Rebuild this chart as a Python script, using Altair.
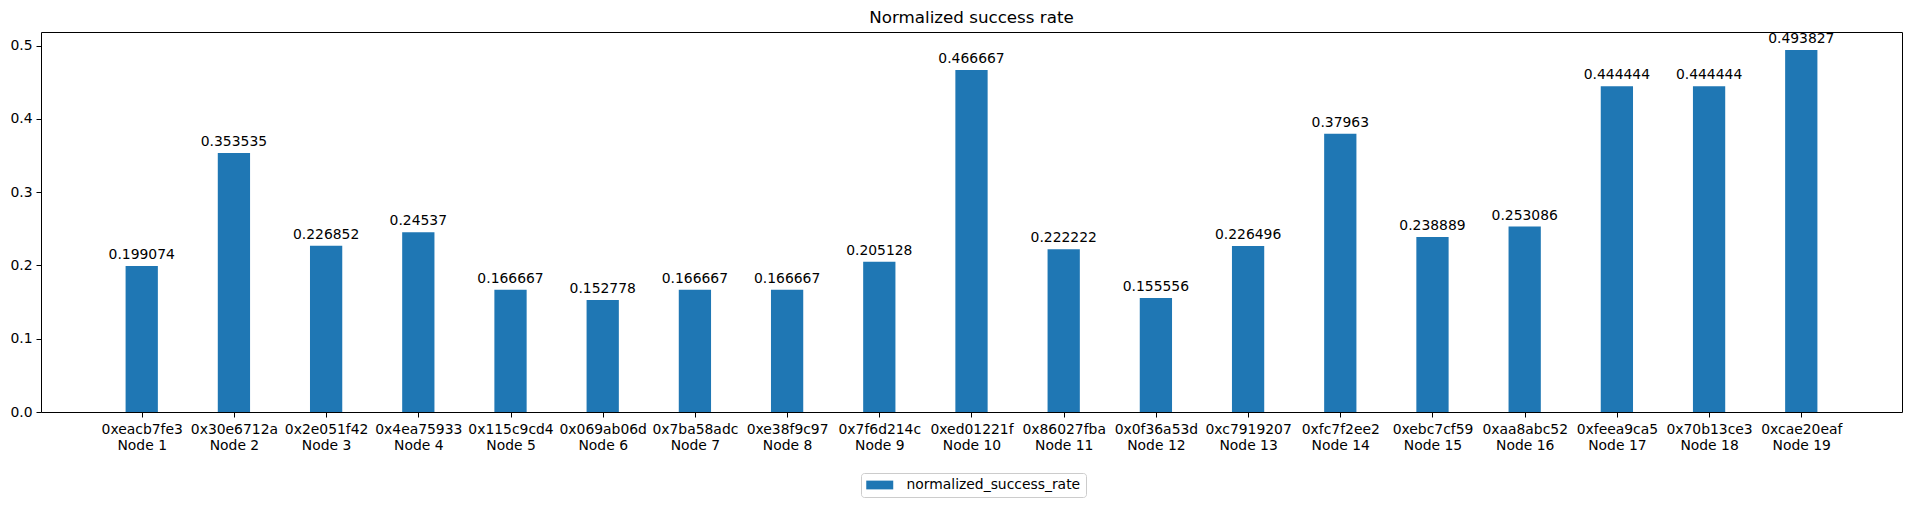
import altair as alt
import pandas as pd

node_ids = ["0xeacb7fe3", "0x30e6712a", "0x2e051f42", "0x4ea75933", "0x115c9cd4",
            "0x069ab06d", "0x7ba58adc", "0xe38f9c97", "0x7f6d214c", "0xed01221f",
            "0x86027fba", "0x0f36a53d", "0xc7919207", "0xfc7f2ee2", "0xebc7cf59",
            "0xaa8abc52", "0xfeea9ca5", "0x70b13ce3", "0xcae20eaf"]
node_names = [f"Node {i}" for i in range(1, len(node_ids) + 1)]
success = [0.199074, 0.353535, 0.226852, 0.24537, 0.166667, 0.152778, 0.166667,
           0.166667, 0.205128, 0.466667, 0.222222, 0.155556, 0.226496, 0.37963,
           0.238889, 0.253086, 0.444444, 0.444444, 0.493827]
y_ticks = [0.0, 0.1, 0.2, 0.3, 0.4, 0.5]
series_name = "normalized_success_rate"

n = len(node_ids)
df = pd.DataFrame({
    "idx": list(range(n)),
    "node_id": node_ids,
    "node": node_names,
    "value": success,
})
df["label"] = [f"{v:g}" for v in success]
df["series"] = series_name

half = 0.175
span = (n - 1) + 2 * half
xmin = -half - 0.05 * span
xmax = (n - 1) + half + 0.05 * span
ymax = max(success) * 1.05

FONT = "DejaVu Sans"
label_expr = ("[[" + ",".join(f"'{a}'" for a in node_ids) +
              "][datum.value], 'Node ' + (datum.value + 1)]")

x_scale = alt.Scale(domain=[xmin, xmax], nice=False, zero=False)
y_scale = alt.Scale(domain=[0, ymax], nice=False)

base = alt.Chart(df)

bars = base.transform_calculate(
    x0=f"datum.idx - {half}", x1=f"datum.idx + {half}"
).mark_bar(color="#1f77b4").encode(
    x=alt.X("x0:Q", scale=x_scale,
            axis=alt.Axis(values=list(range(n)), labelExpr=label_expr, title=None,
                          grid=False, domain=False, tickSize=5, tickColor="black",
                          labelPadding=5, labelLineHeight=16, labelFontSize=13.9,
                          labelFont=FONT, labelColor="black", labelBaseline="top",
                          labelFlush=False, labelOverlap=False)),
    x2="x1:Q",
    y=alt.Y("value:Q", scale=y_scale,
            axis=alt.Axis(values=y_ticks, format=".1f", title=None, grid=False,
                          domain=False, tickSize=5, tickColor="black", labelPadding=4,
                          labelFontSize=13.9, labelFont=FONT, labelColor="black")),
    y2=alt.datum(0),
    color=alt.Color("series:N", scale=alt.Scale(range=["#1f77b4"]),
                    legend=alt.Legend(title=None, orient="none", legendX=820, legendY=441,
                                      symbolType="M-1,-0.65L3,-0.65L3,0.65L-1,0.65Z",
                                      symbolSize=182, symbolStrokeWidth=0,
                                      labelOffset=26.5, padding=5, labelLimit=400,
                                      strokeColor="#cccccc", fillColor="white",
                                      cornerRadius=3, labelFontSize=13.9,
                                      labelFont=FONT, labelColor="black")),
)

text = base.mark_text(baseline="bottom", dy=-4, fontSize=13.9, font=FONT,
                      color="black").encode(
    x=alt.X("idx:Q", scale=x_scale),
    y=alt.Y("value:Q", scale=y_scale),
    text="label:N",
)

chart = alt.layer(bars, text).properties(
    width=1861,
    height=380,
    autosize=alt.AutoSizeParams(type="none"),
    padding={"left": 33, "top": 24, "right": 1, "bottom": 90},
    title=alt.Title("Normalized success rate", fontSize=16.7, font=FONT,
                    fontWeight="normal", offset=5, frame="group",
                    color="black"),
).configure_view(stroke="black", strokeWidth=1)

chart.save("out.html", embed_options={"renderer": "svg", "actions": False})
